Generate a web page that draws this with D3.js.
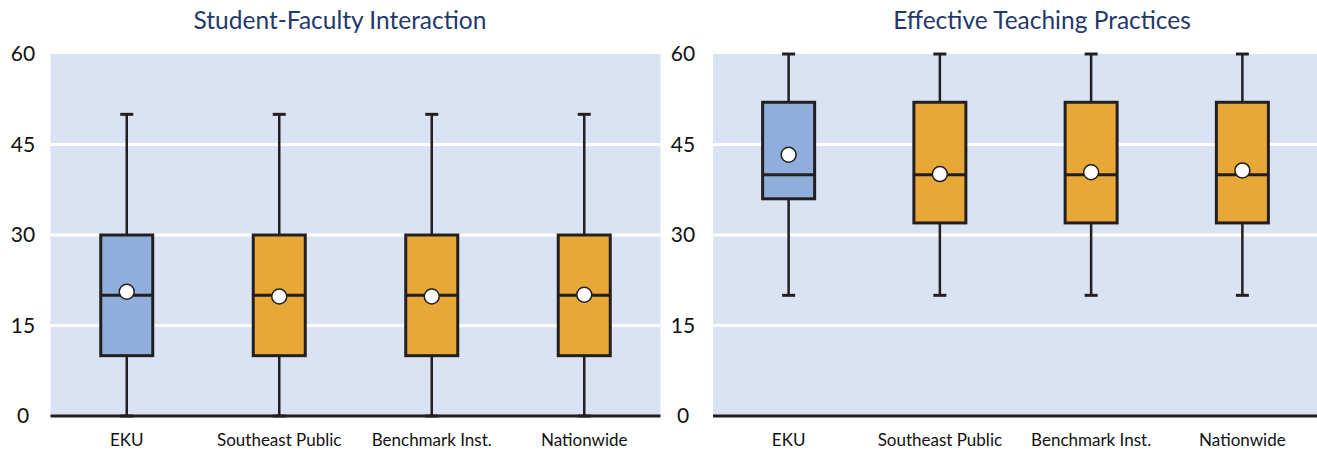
<!DOCTYPE html>
<html>
<head>
<meta charset="utf-8">
<script src="https://cdn.jsdelivr.net/npm/d3@7"></script>
<style>
  html, body { margin: 0; padding: 0; background: #ffffff; }
  svg { display: block; }
</style>
</head>
<body>
<svg id="chart" width="1317" height="451"></svg>
<script>
// Groups compared in both panels
const categories = ["EKU", "Southeast Public", "Benchmark Inst.", "Nationwide"];
const yTicks = [0, 15, 30, 45, 60];

// Student-Faculty Interaction: five-number summaries and means
const sfiMin    = [0, 0, 0, 0];
const sfiQ1     = [10, 10, 10, 10];
const sfiMedian = [20, 20, 20, 20];
const sfiQ3     = [30, 30, 30, 30];
const sfiMax    = [50, 50, 50, 50];
const sfiMean   = [20.6, 19.8, 19.8, 20.1];

// Effective Teaching Practices: five-number summaries and means
const etpMin    = [20, 20, 20, 20];
const etpQ1     = [36, 32, 32, 32];
const etpMedian = [40, 40, 40, 40];
const etpQ3     = [52, 52, 52, 52];
const etpMax    = [60, 60, 60, 60];
const etpMean   = [43.3, 40.1, 40.4, 40.7];

const fills = ["#8faedb", "#e8a838", "#e8a838", "#e8a838"];

const panels = [
  { title: "Student-Faculty Interaction", x0: 50.5, x1: 660.5, tickX: 23, titleX: 340,
    min: sfiMin, q1: sfiQ1, med: sfiMedian, q3: sfiQ3, max: sfiMax, mean: sfiMean },
  { title: "Effective Teaching Practices", x0: 713, x1: 1318, tickX: 683, titleX: 1042,
    min: etpMin, q1: etpQ1, med: etpMedian, q3: etpQ3, max: etpMax, mean: etpMean }
];

const svg = d3.select("#chart");
const y = d3.scaleLinear().domain([0, 60]).range([416, 54]);
const ink = "#231f20";
const font = "Lato, 'Open Sans', sans-serif";

panels.forEach(p => {
  const g = svg.append("g");
  const x = d3.scaleBand().domain(categories).range([p.x0, p.x1]);
  const bw = 52, cap = 13;

  // plot background
  g.append("rect")
    .attr("x", p.x0).attr("y", y(60))
    .attr("width", p.x1 - p.x0).attr("height", y(0) - y(60))
    .attr("fill", "#d9e3f3");

  // horizontal gridlines
  g.selectAll(".grid").data(yTicks.filter(t => t > 0 && t < 60)).enter()
    .append("line")
    .attr("x1", p.x0).attr("x2", p.x1)
    .attr("y1", d => y(d)).attr("y2", d => y(d))
    .attr("stroke", "#ffffff").attr("stroke-width", 3);

  // y tick labels
  g.selectAll(".ytick").data(yTicks).enter()
    .append("text")
    .attr("x", p.tickX).attr("y", d => y(d))
    .attr("dy", "0.35em")
    .attr("text-anchor", "middle")
    .attr("font-family", font)
    .attr("font-size", 21)
    .attr("fill", "#111")
    .text(d => d);

  // title
  g.append("text")
    .attr("x", p.titleX).attr("y", 29)
    .attr("text-anchor", "middle")
    .attr("font-family", font)
    .attr("font-size", 24.5)
    .attr("fill", "#24396b")
    .text(p.title);

  const boxes = g.selectAll(".box").data(categories.map((c, i) => ({ c, i }))).enter()
    .append("g");

  const cx = d => x(d.c) + x.bandwidth() / 2;

  // whiskers
  boxes.append("line")
    .attr("x1", cx).attr("x2", cx)
    .attr("y1", d => y(p.max[d.i])).attr("y2", d => y(p.min[d.i]))
    .attr("stroke", ink).attr("stroke-width", 2.5);
  boxes.append("line")
    .attr("x1", d => cx(d) - cap / 2).attr("x2", d => cx(d) + cap / 2)
    .attr("y1", d => y(p.max[d.i])).attr("y2", d => y(p.max[d.i]))
    .attr("stroke", ink).attr("stroke-width", 3);
  boxes.append("line")
    .attr("x1", d => cx(d) - cap / 2).attr("x2", d => cx(d) + cap / 2)
    .attr("y1", d => y(p.min[d.i])).attr("y2", d => y(p.min[d.i]))
    .attr("stroke", ink).attr("stroke-width", 3);

  // box
  boxes.append("rect")
    .attr("x", d => cx(d) - bw / 2)
    .attr("y", d => y(p.q3[d.i]))
    .attr("width", bw)
    .attr("height", d => y(p.q1[d.i]) - y(p.q3[d.i]))
    .attr("fill", d => fills[d.i])
    .attr("stroke", ink).attr("stroke-width", 3);

  // median
  boxes.append("line")
    .attr("x1", d => cx(d) - bw / 2).attr("x2", d => cx(d) + bw / 2)
    .attr("y1", d => y(p.med[d.i])).attr("y2", d => y(p.med[d.i]))
    .attr("stroke", ink).attr("stroke-width", 3);

  // mean marker
  boxes.append("circle")
    .attr("cx", cx).attr("cy", d => y(p.mean[d.i]))
    .attr("r", 7.5)
    .attr("fill", "#ffffff")
    .attr("stroke", ink).attr("stroke-width", 1.5);

  // x axis baseline
  g.append("line")
    .attr("x1", p.x0).attr("x2", p.x1)
    .attr("y1", y(0)).attr("y2", y(0))
    .attr("stroke", ink).attr("stroke-width", 3);

  // category labels
  g.selectAll(".xlab").data(categories).enter()
    .append("text")
    .attr("x", d => x(d) + x.bandwidth() / 2)
    .attr("y", 446)
    .attr("text-anchor", "middle")
    .attr("font-family", font)
    .attr("font-size", 17)
    .attr("fill", "#111")
    .text(d => d);
});
</script>
</body>
</html>
